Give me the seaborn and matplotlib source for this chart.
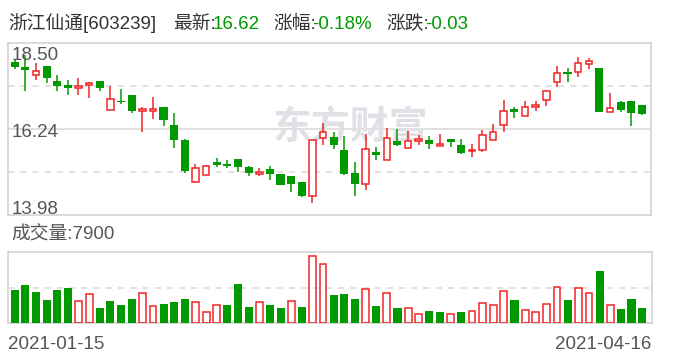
import numpy as np
import pandas as pd
import matplotlib
matplotlib.use("Agg")
import matplotlib.pyplot as plt
import seaborn as sns

# ---------------- data ----------------
stock_name = "浙江仙通"
stock_code = "603239"
date_labels = ["2021-01-15", "2021-04-16"]
y_tick_values = [18.50, 16.24, 13.98]
prev_close0 = 17.95

opens = [17.99, 17.86, 17.65, 17.89, 17.50, 17.39, 17.32, 17.38, 17.50, 16.74,
         16.97, 17.13, 16.71, 16.71, 16.81, 16.34, 15.96, 14.85, 15.02, 15.37,
         15.30, 15.45, 15.24, 15.06, 15.19, 15.06, 15.00, 14.85, 14.49, 16.01,
         16.03, 15.69, 15.08, 14.80, 15.63, 15.42, 15.92, 15.73, 15.93, 15.95,
         15.80, 15.97, 15.82, 15.65, 15.68, 15.94, 16.33, 16.76, 16.57, 16.82,
         16.99, 17.46, 17.73, 17.72, 17.93, 17.84, 16.69, 16.95, 16.97, 16.87]
closes = [17.87, 17.79, 17.75, 17.58, 17.37, 17.32, 17.36, 17.43, 17.32, 17.02,
          16.94, 16.72, 16.74, 16.75, 16.48, 15.95, 15.14, 15.21, 15.26, 15.30,
          15.27, 15.25, 15.07, 15.08, 15.06, 14.78, 14.80, 14.48, 15.95, 16.15,
          15.82, 15.06, 14.79, 15.70, 15.56, 16.01, 15.82, 15.91, 15.97, 15.85,
          15.82, 15.90, 15.61, 15.69, 16.07, 16.15, 16.70, 16.69, 16.81, 16.87,
          17.23, 17.70, 17.69, 17.96, 18.01, 16.69, 16.78, 16.74, 16.65, 16.62]
highs = [18.05, 18.18, 17.96, 17.89, 17.65, 17.52, 17.58, 17.48, 17.50, 17.36,
         17.29, 17.13, 16.81, 17.08, 16.81, 16.66, 15.97, 15.32, 15.28, 15.48,
         15.42, 15.45, 15.27, 15.21, 15.27, 15.06, 15.00, 14.85, 15.95, 16.40,
         16.16, 16.05, 15.37, 16.11, 15.77, 16.26, 16.24, 16.18, 16.07, 16.05,
         16.10, 15.97, 15.97, 15.84, 16.21, 16.37, 17.00, 16.81, 16.97, 16.97,
         17.26, 17.89, 17.84, 18.13, 18.10, 17.84, 17.18, 16.97, 16.97, 16.87]
lows = [17.80, 17.22, 17.53, 17.45, 17.24, 17.13, 17.13, 17.06, 17.24, 16.74,
        16.88, 16.65, 16.17, 16.51, 16.32, 15.75, 15.09, 14.81, 15.02, 15.23,
        15.20, 15.12, 15.01, 15.01, 14.90, 14.77, 14.58, 14.46, 14.30, 15.82,
        15.72, 15.03, 14.48, 14.64, 15.42, 15.42, 15.80, 15.73, 15.82, 15.72,
        15.80, 15.77, 15.58, 15.51, 15.64, 15.94, 16.17, 16.53, 16.57, 16.72,
        16.85, 17.35, 17.47, 17.61, 17.82, 16.69, 16.69, 16.69, 16.32, 16.61]
volumes = [17200, 19800, 16200, 12000, 17200, 18200, 11400, 15000, 7900, 11500,
           9400, 12500, 15500, 8800, 10000, 11000, 12500, 10800, 5700, 9300,
           9400, 20300, 8400, 10800, 9400, 7900, 11400, 8400, 34600, 30400,
           14600, 15100, 12500, 17500, 8900, 15500, 7900, 7700, 4600, 6300,
           5800, 4600, 5800, 6200, 10300, 9300, 16500, 12000, 6700, 5700,
           9800, 18600, 12000, 18100, 15500, 27000, 9300, 7400, 12500, 7900]
vol_axis_max = 36600

# ---------------- style ----------------
GREEN = "#009a00"
RED = "#f02424"
GRID = "#d9d9d9"
BORDER = "#cfcfcf"
LABEL = "#555555"
DARK = "#333333"

sns.set_theme(style="white")
plt.rcParams['font.family'] = ['Liberation Sans', 'Noto Sans CJK SC']
FS = 13.5

W, H = 688, 360
fig = plt.figure(figsize=(W / 100, H / 100), dpi=100)


def rect(l, t, r, b):
    return [l / W, 1 - b / H, (r - l) / W, (b - t) / H]


axp = fig.add_axes(rect(8.3, 42.7, 651, 215))
axv = fig.add_axes(rect(8.3, 252, 651.7, 323.3))

df = pd.DataFrame({"o": opens, "c": closes, "h": highs, "l": lows, "v": volumes})
df["x"] = np.arange(len(df))
prev = [prev_close0] + closes[:-1]
df["vdir"] = np.where(df["c"] > np.array(prev), "up", "down")
df["up"] = df["c"] >= df["o"]

# ---------------- price panel ----------------
ymin, ymax = y_tick_values[2], y_tick_values[0]
axp.set_xlim(-0.6, len(df) - 0.15)
axp.set_ylim(ymin, ymax)
step = (ymax - ymin) / 4
axp.axhline(ymin + 2 * step, color=GRID, lw=1.1, zorder=0)
for k in (1, 3):
    axp.axhline(ymin + k * step, color=GRID, lw=1.1, ls=(0, (4, 4)), zorder=0)

axp.text(0.532, 0.505, "东方财富", transform=axp.transAxes, ha="center", va="center",
         fontsize=28, fontweight="bold", color="#e0e0e6", zorder=0.5,
         family=['Noto Sans CJK SC'])

cols = np.where(df["up"], RED, GREEN)
axp.vlines(df["x"], df["l"], df["h"], colors=cols, lw=1.1, zorder=2)
minh = 0.04
body_lo = np.minimum(df["o"], df["c"])
body_h = np.maximum(np.abs(df["c"] - df["o"]), minh)
upm = df["up"].values
axp.bar(df["x"][~upm], body_h[~upm], bottom=body_lo[~upm], width=0.76,
        color=GREEN, linewidth=0, zorder=3)
axp.bar(df["x"][upm], body_h[upm], bottom=body_lo[upm], width=0.62,
        facecolor="white", edgecolor=RED, linewidth=1.1, zorder=3)

for spine in axp.spines.values():
    spine.set_color(BORDER)
    spine.set_linewidth(1.1)
axp.set_xticks([])
axp.set_yticks([])

label_base = [0.9, 0.453, 0.006]
for v, yb in zip(y_tick_values, label_base):
    axp.text(0.0045, yb, f"{v:.2f}", transform=axp.transAxes, ha="left",
             va="baseline", fontsize=FS, color=LABEL, zorder=5)

# ---------------- volume panel ----------------
axv.axhline(vol_axis_max / 2, color=GRID, lw=1.1, ls=(0, (4, 4)), zorder=0)
sns.barplot(data=df[df["vdir"] == "down"], x="x", y="v", native_scale=True,
            orient="x", color=GREEN, saturation=1, width=0.76, linewidth=0,
            errorbar=None, ax=axv, zorder=3)
sns.barplot(data=df[df["vdir"] == "up"], x="x", y="v", native_scale=True,
            orient="x", color=RED, saturation=1, width=0.64, fill=False,
            linewidth=1.1, errorbar=None, ax=axv, zorder=3)
axv.set_xlim(-0.6, len(df) - 0.1)
axv.set_ylim(0, vol_axis_max)
axv.set_xticks([])
axv.set_yticks([])
axv.set_xlabel("")
axv.set_ylabel("")
for spine in axv.spines.values():
    spine.set_color(BORDER)
    spine.set_linewidth(1.1)

# ---------------- texts ----------------
last = closes[-1]
chg = closes[-1] - closes[-2]
pct = chg / closes[-2] * 100

tb = 1 - 29.3 / H
fig.text(8 / W, tb, f"{stock_name}[{stock_code}]", fontsize=FS, color=DARK, va="baseline")
fig.text(173 / W, tb, "最新:", fontsize=FS, color=DARK, va="baseline")
fig.text(213 / W, tb, f"{last:.2f}", fontsize=FS, color=GREEN, va="baseline")
fig.text(273 / W, tb, "涨幅:", fontsize=FS, color=DARK, va="baseline")
fig.text(312 / W, tb, f"{pct:.2f}%", fontsize=FS, color=GREEN, va="baseline")
fig.text(386 / W, tb, "涨跌:", fontsize=FS, color=DARK, va="baseline")
fig.text(425 / W, tb, f"{chg:.2f}", fontsize=FS, color=GREEN, va="baseline")

fig.text(11.7 / W, 1 - 239.3 / H, f"成交量:{volumes[-1]}", fontsize=FS, color=LABEL, va="baseline")
fig.text(8.3 / W, 1 - 348.7 / H, date_labels[0], fontsize=FS, color=LABEL, va="baseline")
fig.text(651.7 / W, 1 - 348.7 / H, date_labels[1], fontsize=FS, color=LABEL, va="baseline", ha="right")

fig.savefig("out.png", dpi=100, facecolor="white")
